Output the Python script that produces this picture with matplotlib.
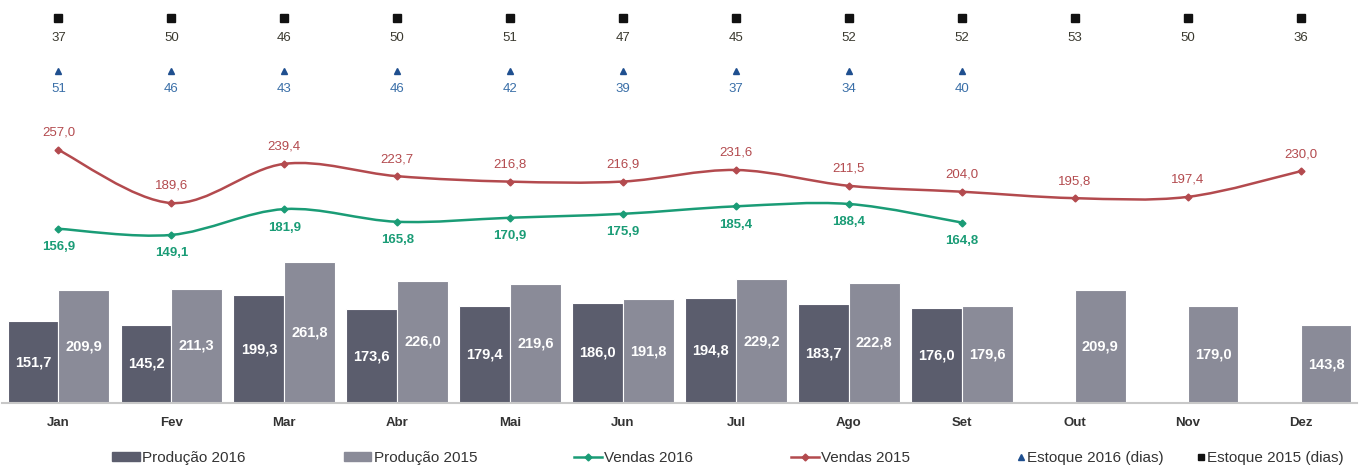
#!/usr/bin/env python3
# coding: utf-8

import matplotlib
matplotlib.use('Agg')
import matplotlib.pyplot as plt
from matplotlib.path import Path
from matplotlib.patches import PathPatch, Patch
from matplotlib.lines import Line2D
import numpy as np

months = ['Jan', 'Fev', 'Mar', 'Abr', 'Mai', 'Jun', 'Jul', 'Ago', 'Set', 'Out', 'Nov', 'Dez']
prod_2016 = [151.7, 145.2, 199.3, 173.6, 179.4, 186.0, 194.8, 183.7, 176.0]
prod_2015 = [209.9, 211.3, 261.8, 226.0, 219.6, 191.8, 229.2, 222.8, 179.6, 209.9, 179.0, 143.8]
vendas_2016 = [156.9, 149.1, 181.9, 165.8, 170.9, 175.9, 185.4, 188.4, 164.8]
vendas_2015 = [257.0, 189.6, 239.4, 223.7, 216.8, 216.9, 231.6, 211.5, 204.0, 195.8, 197.4, 230.0]
estoque_2016 = [51, 46, 43, 46, 42, 39, 37, 34, 40]
estoque_2015 = [37, 50, 46, 50, 51, 47, 45, 52, 52, 53, 50, 36]

plt.rcParams['font.family'] = ['Liberation Sans', 'DejaVu Sans']

C_P16 = '#5b5d6d'
C_P15 = '#8a8b98'
C_V16 = '#1a9c76'
C_V15 = '#b34a4e'
C_E16 = '#1f4f8f'
C_E15 = '#111111'


def fmt(v):
    return ('%.1f' % v).replace('.', ',')


def smooth_path(xs, ys):
    # excel-like smoothed line, bezier segments through the points
    pts = np.column_stack([xs, ys]).astype(float)
    n = len(pts)
    verts = [pts[0]]
    codes = [Path.MOVETO]
    for i in range(n - 1):
        p0 = pts[i - 1] if i > 0 else pts[i]
        p1 = pts[i]
        p2 = pts[i + 1]
        p3 = pts[i + 2] if i + 2 < n else pts[i + 1]
        c1 = p1 + (p2 - p0) / 6.0
        c2 = p2 - (p3 - p1) / 6.0
        verts += [c1, c2, p2]
        codes += [Path.CURVE4] * 3
    return Path(verts, codes)


fig = plt.figure(figsize=(13.59, 4.66), dpi=100)
ax = fig.add_axes([2 / 1359, 63 / 466, 1355 / 1359, 403 / 466])

x = np.arange(len(months))
w = 0.45
x16 = x[:len(prod_2016)]

b16 = ax.bar(x16 - w / 2, prod_2016, w, color=C_P16, edgecolor='white', linewidth=0.8)
b15 = ax.bar(x + w / 2, prod_2015, w, color=C_P15, edgecolor='white', linewidth=0.8)
for bars, vals in ((b16, prod_2016), (b15, prod_2015)):
    for r, v in zip(bars, vals):
        ax.text(r.get_x() + r.get_width() / 2, v / 2, fmt(v), ha='center', va='center',
                color='white', fontsize=10.5, fontweight='bold')

ax.set_xlim(-0.5, len(months) - 0.5)
ax.set_ylim(0, 403 / 0.54)
ax.set_xticks(x)
ax.set_xticklabels(months, fontsize=9.5, fontweight='bold', color='#333333')
ax.tick_params(axis='x', length=0, pad=10)
ax.set_yticks([])
for s in ['top', 'left', 'right']:
    ax.spines[s].set_visible(False)
ax.spines['bottom'].set_color('#c8c8c8')
ax.spines['bottom'].set_linewidth(1.5)

# estoque rows on top, fixed height
tr = ax.get_xaxis_transform()
ax.plot(x, [0.955] * len(x), 's', color=C_E15, markersize=6, transform=tr, clip_on=False)
for xi, v in zip(x, estoque_2015):
    ax.text(xi, 0.905, str(v), transform=tr, ha='center', va='center', fontsize=9.5, color='#3b3a30')
ax.plot(x16, [0.824] * len(x16), '^', color=C_E16, markersize=5, transform=tr, clip_on=False)
for xi, v in zip(x16, estoque_2016):
    ax.text(xi, 0.778, str(v), transform=tr, ha='center', va='center', fontsize=9.5, color='#3a6fa8')

# vendas on a second scale
ax2 = ax.twinx()
ax2.set_ylim(-64.5, 447.6)
ax2.set_yticks([])
for s in ['top', 'left', 'right', 'bottom']:
    ax2.spines[s].set_visible(False)

ax2.add_patch(PathPatch(smooth_path(x, vendas_2015), facecolor='none', edgecolor=C_V15, linewidth=1.8))
ax2.plot(x, vendas_2015, 'D', color=C_V15, markersize=3.5)
for xi, v in zip(x, vendas_2015):
    ax2.annotate(fmt(v), (xi, v), xytext=(0, 8), textcoords='offset points', ha='center',
                 va='bottom', fontsize=9.5, color=C_V15)

ax2.add_patch(PathPatch(smooth_path(x16, vendas_2016), facecolor='none', edgecolor=C_V16, linewidth=1.8))
ax2.plot(x16, vendas_2016, 'D', color=C_V16, markersize=3.5)
for xi, v in zip(x16, vendas_2016):
    ax2.annotate(fmt(v), (xi, v), xytext=(0, -9), textcoords='offset points', ha='center',
                 va='top', fontsize=9.5, color=C_V16, fontweight='bold')

# legend, one entry at a time to keep the excel spacing
handles = [
    Patch(color=C_P16),
    Patch(color=C_P15),
    Line2D([], [], color=C_V16, lw=1.8, marker='D', markersize=3.5),
    Line2D([], [], color=C_V15, lw=1.8, marker='D', markersize=3.5),
    Line2D([], [], color=C_E16, lw=0, marker='^', markersize=4),
    Line2D([], [], color=C_E15, lw=0, marker='s', markersize=5),
]
labels = ['Produção 2016', 'Produção 2015', 'Vendas 2016', 'Vendas 2015',
          'Estoque 2016 (dias)', 'Estoque 2015 (dias)']
lx = [112, 344, 574, 791, 1016, 1196]
for h, l, px in zip(handles, labels, lx):
    hl = 1.8 if px < 1000 else 0.6
    fig.legend([h], [l], loc='center left', bbox_to_anchor=(px / 1359, 1 - 458 / 466),
               frameon=False, fontsize=11, handlelength=hl, handleheight=0.5,
               handletextpad=0.15, borderpad=0, borderaxespad=0, labelcolor='#333333')

fig.savefig('out.png', dpi=100)
